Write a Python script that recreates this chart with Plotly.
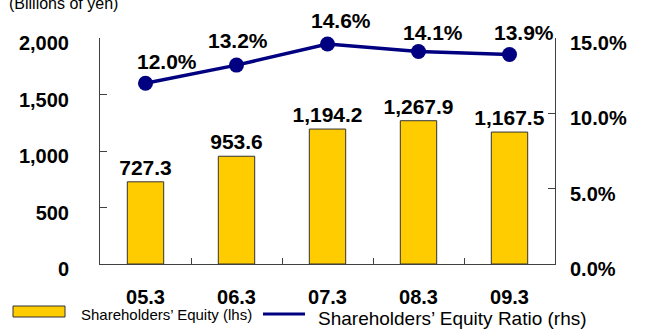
import plotly.graph_objects as go

# Fiscal years (March year-end)
periods = ["05.3", "06.3", "07.3", "08.3", "09.3"]
# Shareholders' equity, billions of yen (left axis)
equity = [727.3, 953.6, 1194.2, 1267.9, 1167.5]
# Shareholders' equity ratio, % (right axis)
equity_ratio = [12.0, 13.2, 14.6, 14.1, 13.9]

left_ticks = [0, 500, 1000, 1500, 2000]
right_ticks = [0, 5, 10, 15]

# Pixel nudges for the ratio labels so they clear the line
ratio_label_dx = [21, 1, 13, 14, 14]
ratio_label_dy = [22, 25, 24, 19, 22]

FONT = "Arial, Liberation Sans, sans-serif"
BAR_COLOR = "#FFCC00"
LINE_COLOR = "#000080"
AXIS_COLOR = "#404040"

W, H = 654, 329
ML, MR, MT, MB = 100, 99, 38, 65
PW, PH = W - ML - MR, H - MT - MB


def px(x, y):
    """Convert page pixel position to paper coordinates."""
    return (x - ML) / PW, (MT + PH - y) / PH


fig = go.Figure()

fig.add_trace(go.Bar(
    x=periods, y=equity, width=0.4,
    marker=dict(color=BAR_COLOR, line=dict(color="#333333", width=1)),
    text=[f"{v:,.1f}" for v in equity],
    textposition="outside", constraintext="none", cliponaxis=False,
    textfont=dict(family=FONT, size=21, color="black", weight="bold"),
    showlegend=False,
))

fig.add_trace(go.Scatter(
    x=periods, y=equity_ratio, yaxis="y2", mode="lines+markers",
    line=dict(color=LINE_COLOR, width=3.5),
    marker=dict(color=LINE_COLOR, size=15),
    cliponaxis=False, showlegend=False,
))

annotations = []
for i, r in enumerate(equity_ratio):
    annotations.append(dict(
        x=i, y=r, xref="x", yref="y2",
        xshift=ratio_label_dx[i], yshift=ratio_label_dy[i], showarrow=False,
        text=f"{r:.1f}%", font=dict(family=FONT, size=21, color="black", weight="bold"),
    ))

# Heading lines at the top edge
x0, y0 = px(7, 3.5)
annotations.append(dict(x=x0, y=y0, xref="paper", yref="paper", xanchor="left", yanchor="middle",
                        showarrow=False, text="(Billions of yen)",
                        font=dict(family=FONT, size=16, color="black")))
x0, y0 = px(389, -9)
annotations.append(dict(x=x0, y=y0, xref="paper", yref="paper", xanchor="right", yanchor="middle",
                        showarrow=False, text="Shareholders' Equity",
                        font=dict(family=FONT, size=16, color="black", weight="bold")))

# Legend row
shapes = []
a, b = px(13, 306)
c, d = px(65, 317)
shapes.append(dict(type="rect", xref="paper", yref="paper", x0=a, y0=b, x1=c, y1=d,
                   fillcolor=BAR_COLOR, line=dict(color="#333333", width=1)))
a, b = px(263, 314)
c, _ = px(305, 314)
shapes.append(dict(type="line", xref="paper", yref="paper", x0=a, y0=b, x1=c, y1=b,
                   line=dict(color=LINE_COLOR, width=3)))
x0, y0 = px(79, 314)
annotations.append(dict(x=x0, y=y0, xref="paper", yref="paper", xanchor="left", yanchor="middle",
                        showarrow=False, text="Shareholders\u2019 Equity (lhs)",
                        font=dict(family=FONT, size=15, color="black")))
x0, y0 = px(316, 318)
annotations.append(dict(x=x0, y=y0, xref="paper", yref="paper", xanchor="left", yanchor="middle",
                        showarrow=False, text="Shareholders\u2019 Equity Ratio (rhs)",
                        font=dict(family=FONT, size=19, color="black")))

tick_font = dict(family=FONT, size=20, color="black", weight="bold")

fig.update_layout(
    width=W, height=H,
    margin=dict(l=ML, r=MR, t=MT, b=MB, pad=0),
    paper_bgcolor="white", plot_bgcolor="white",
    xaxis=dict(
        type="category", range=[-0.5, 4.5], showgrid=False, zeroline=False,
        showline=True, linecolor=AXIS_COLOR, linewidth=1,
        ticks="inside", tickson="boundaries", ticklen=6, tickcolor=AXIS_COLOR,
        tickfont=tick_font, ticklabelstandoff=15, tickangle=0,
    ),
    yaxis=dict(
        range=[0, 2000], tickvals=left_ticks, tickformat=",d",
        showgrid=False, zeroline=False,
        showline=True, linecolor=AXIS_COLOR, linewidth=1,
        ticks="inside", ticklen=7, tickcolor=AXIS_COLOR,
        tickfont=tick_font, ticklabelstandoff=26, ticklabelshift=5,
    ),
    yaxis2=dict(
        range=[0, 15], tickvals=right_ticks,
        ticktext=[f"{v:.1f}%" for v in right_ticks],
        overlaying="y", side="right", showgrid=False, zeroline=False,
        showline=True, linecolor=AXIS_COLOR, linewidth=1,
        ticks="inside", ticklen=7, tickcolor=AXIS_COLOR,
        tickfont=tick_font, ticklabelstandoff=10, ticklabelshift=5,
    ),
    annotations=annotations,
    shapes=shapes,
)

fig.write_html("out.html")
